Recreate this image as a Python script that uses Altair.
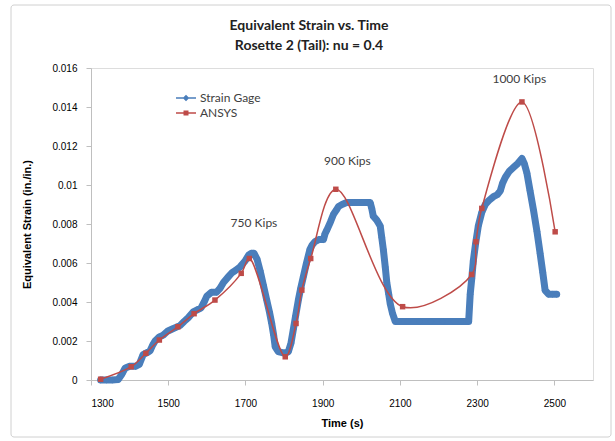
import altair as alt
import pandas as pd

# ---------------- data ----------------
gage_t = [1325, 1340, 1355, 1370, 1380, 1388, 1400, 1415, 1425, 1435, 1445, 1453,
          1460, 1466, 1476, 1487, 1498, 1509, 1520, 1531, 1541, 1552, 1565, 1575,
          1585, 1593, 1600, 1612, 1625, 1634, 1643, 1656, 1665, 1673, 1686, 1699,
          1708, 1715, 1722, 1730, 1738, 1746, 1755, 1762, 1768, 1773, 1777, 1785,
          1795, 1805, 1811, 1818, 1824, 1830, 1837, 1843, 1850, 1858, 1867, 1872,
          1880, 1890, 1902, 1906, 1911, 1920, 1928, 1935, 1941, 1950, 1962, 1980,
          2000, 2015, 2023, 2027, 2031, 2040, 2049, 2053, 2057, 2062, 2066, 2071,
          2075, 2081, 2088, 2095, 2120, 2150, 2180, 2210, 2240, 2260, 2278, 2282,
          2286, 2290, 2296, 2303, 2312, 2321, 2330, 2342, 2352, 2360, 2366, 2373,
          2383, 2394, 2405, 2416, 2422, 2429, 2437, 2446, 2455, 2463, 2470, 2476,
          2485, 2495, 2506]
gage_s = [0.0, 0.0, 0.0, 0.00002, 0.0003, 0.0006, 0.0007, 0.0007, 0.0008, 0.0013, 0.0014, 0.0015,
          0.0018, 0.002, 0.0022, 0.0023, 0.0025, 0.0026, 0.0027, 0.0028, 0.003, 0.0032, 0.0035, 0.0036,
          0.0037, 0.004, 0.0043, 0.0045, 0.0045, 0.0047, 0.005, 0.0053, 0.0055, 0.0056, 0.0058, 0.0061,
          0.0064, 0.0065, 0.0065, 0.0062, 0.0056, 0.0049, 0.0041, 0.0035, 0.0029, 0.0023, 0.0017, 0.00145,
          0.0014, 0.0014, 0.00145, 0.0019, 0.0026, 0.0033, 0.0041, 0.0047, 0.0053, 0.006, 0.0067, 0.0069,
          0.0071, 0.0072, 0.0072, 0.0075, 0.0077, 0.0081, 0.0085, 0.0087, 0.0089, 0.009, 0.0091, 0.0091,
          0.0091, 0.0091, 0.0091, 0.0088, 0.0084, 0.0082, 0.0079, 0.0073, 0.0067, 0.0058, 0.005, 0.0044,
          0.0039, 0.0034, 0.003, 0.003, 0.003, 0.003, 0.003, 0.003, 0.003, 0.003, 0.003, 0.0044,
          0.0052, 0.0061, 0.007, 0.0079, 0.0086, 0.009, 0.0092, 0.0094, 0.0095, 0.0097, 0.0101, 0.0104,
          0.0107, 0.0109, 0.0111, 0.01136, 0.0111, 0.0106, 0.0097, 0.0087, 0.0076, 0.0065, 0.0055, 0.0046,
          0.0044, 0.0044, 0.0044]

ansys_t = [1325, 1404, 1442, 1477, 1525, 1567, 1621, 1689, 1710, 1803, 1831, 1846,
           1869, 1934, 2107, 2286, 2297, 2312, 2416, 2502]
ansys_s = [0.00004, 0.00068, 0.00137, 0.00205, 0.00273, 0.0034, 0.0041, 0.00547, 0.00623,
           0.00119, 0.0029, 0.00461, 0.00623, 0.00978, 0.00376, 0.00541, 0.00709, 0.0088,
           0.01426, 0.0076]

series_names = ["Strain Gage", "ANSYS"]
series_colors = ["#4a7ebb", "#be4b48"]

note_text = ["750 Kips", "900 Kips", "1000 Kips"]
note_t = [1722, 1964, 2409]
note_s = [0.00805, 0.01124, 0.01542]

x_ticks = [1300, 1500, 1700, 1900, 2100, 2300, 2500]
y_ticks = [0, 0.002, 0.004, 0.006, 0.008, 0.010, 0.012, 0.014, 0.016]

title_lines = ["Equivalent Strain vs. Time", "Rosette 2 (Tail): nu = 0.4"]

# ---------------- tables ----------------
gage = pd.DataFrame({"t": gage_t, "s": gage_s, "series": series_names[0]})
ansys = pd.DataFrame({"t": ansys_t, "s": ansys_s, "series": series_names[1]})
notes = pd.DataFrame({"t": note_t, "s": note_s, "label": note_text})
keys = pd.DataFrame({"series": series_names})

FONT = "Lato"
TXT = "#404040"

# legend glyphs: a short line with the series marker on it
DIAMOND = "M-2,-0.13L2,-0.13L2,0.13L-2,0.13ZM0,-0.65L0.65,0L0,0.65L-0.65,0Z"
SQUARE = "M-2,-0.13L2,-0.13L2,0.13L-2,0.13ZM-0.5,-0.5L0.5,-0.5L0.5,0.5L-0.5,0.5Z"

xs = alt.Scale(domain=[1300, 2600], nice=False)
ys = alt.Scale(domain=[0, 0.016], nice=False)
cs = alt.Scale(domain=series_names, range=series_colors)
ss = alt.Scale(domain=series_names, range=[DIAMOND, SQUARE])

x_axis = alt.Axis(title="Time (s)", values=x_ticks, format="d", grid=False,
                  domainColor="#bfbfbf", tickColor="#bfbfbf", tickSize=5,
                  labelPadding=13, titlePadding=9, labelOverlap=False)
y_axis = alt.Axis(title="Equivalent Strain (in./in.)", values=y_ticks, tickCount=9,
                  format="~g", grid=False,
                  domainColor="#bfbfbf", tickColor="#bfbfbf", tickSize=5,
                  labelPadding=9, titlePadding=19, labelOverlap=False)

legend = alt.Legend(title=None, orient="none", legendX=89, legendY=24,
                    symbolSize=100, labelOffset=8, rowPadding=3, padding=0,
                    labelFontSize=12, labelFont=FONT, labelColor=TXT,
                    symbolStrokeWidth=0)

color_enc = alt.Color("series:N", scale=cs, legend=legend)
X = alt.X("t:Q", scale=xs, axis=x_axis)
Y = alt.Y("s:Q", scale=ys, axis=y_axis)

border = alt.Chart(alt.Data(values=[{}])).mark_rect(
    fill=None, stroke="#d0d0d0", strokeWidth=1, cornerRadius=3
).encode(x=alt.value(-80), x2=alt.value(520), y=alt.value(-63), y2=alt.value(369))

gage_line = alt.Chart(gage).mark_line(strokeWidth=7, strokeJoin="round", strokeCap="round").encode(
    x=X, y=Y, color=color_enc, order="t:Q")
gage_pts = alt.Chart(gage).mark_point(shape="diamond", filled=True, size=50, opacity=1).encode(
    x=X, y=Y, color=color_enc)

ansys_line = alt.Chart(ansys).mark_line(strokeWidth=1.5, interpolate="catmull-rom").encode(
    x=X, y=Y, color=color_enc, order="t:Q")
ansys_pts = alt.Chart(ansys).mark_point(shape="square", filled=True, size=30, opacity=1).encode(
    x=X, y=Y, color=color_enc)

# carrier of the legend glyphs only (drawn off-canvas)
key_layer = alt.Chart(keys).mark_point(filled=True, size=100).encode(
    x=alt.value(-2000), y=alt.value(0), color=color_enc,
    shape=alt.Shape("series:N", scale=ss, legend=legend))

labels = alt.Chart(notes).mark_text(font=FONT, fontSize=12, color=TXT).encode(
    x=X, y=Y, text="label:N")

chart = alt.layer(border, gage_line, gage_pts, ansys_line, ansys_pts, labels, key_layer).properties(
    width=502, height=312,
    title=alt.TitleParams(text=title_lines, font=FONT, fontSize=14, fontWeight="bold",
                          color="#222222", anchor="middle", dx=-33, dy=48, offset=0, lineHeight=20),
    autosize=alt.AutoSizeParams(type="none"),
    padding={"left": 91, "top": 68, "right": 22, "bottom": 61},
).configure_view(stroke=None).configure_axis(
    labelFont=FONT, labelFontSize=12, labelColor=TXT, labelOverlap=False,
    titleFont=FONT, titleFontSize=12.5, titleColor="#222222", titleFontWeight="bold",
).configure(background="white")

chart.save("out.html", embed_options={"renderer": "svg", "actions": False})
